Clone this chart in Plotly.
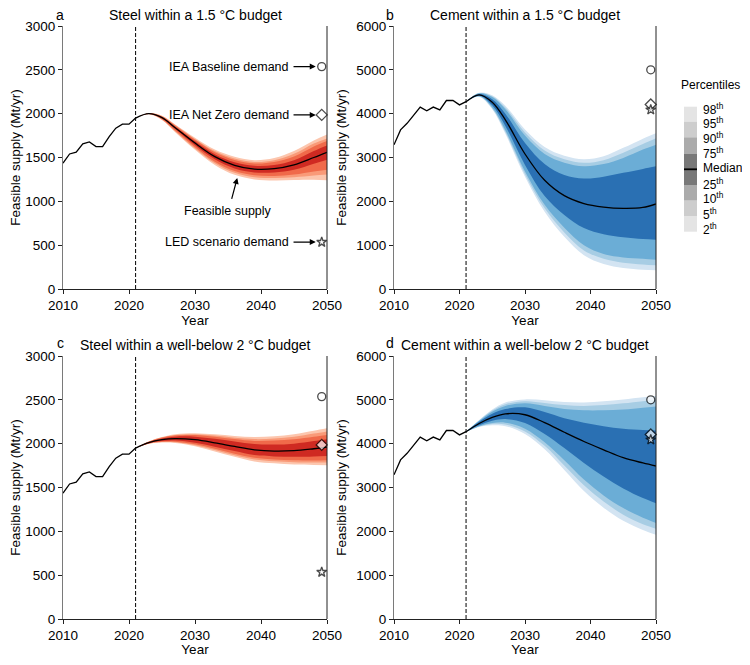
import plotly.graph_objects as go

# historical production (Mt/yr)
HIST_YEARS = list(range(2010, 2022))
STEEL_HIST = [1435, 1540, 1560, 1655, 1678, 1625, 1625, 1738, 1834, 1880, 1880, 1950]
CEMENT_HIST = [3290, 3630, 3780, 3970, 4150, 4065, 4150, 4085, 4300, 4300, 4200, 4275]

# feasible supply percentiles
PROJ_YEARS = [2021, 2023, 2025, 2027, 2030, 2033, 2036, 2039, 2042, 2045, 2048, 2050]

STEEL_15 = {
    2:  [1950, 1994, 1927, 1788, 1588, 1415, 1302, 1250, 1238, 1242, 1245, 1240],
    5:  [1950, 1995, 1932, 1798, 1603, 1435, 1325, 1275, 1265, 1275, 1295, 1305],
    10: [1950, 1996, 1937, 1808, 1618, 1452, 1345, 1298, 1290, 1305, 1340, 1360],
    25: [1950, 1998, 1945, 1825, 1640, 1480, 1375, 1330, 1330, 1360, 1430, 1475],
    50: [1950, 2000, 1955, 1840, 1665, 1510, 1410, 1367, 1372, 1415, 1500, 1560],
    75: [1950, 2002, 1962, 1852, 1685, 1538, 1445, 1405, 1415, 1470, 1575, 1638],
    90: [1950, 2004, 1968, 1862, 1702, 1560, 1472, 1432, 1448, 1510, 1625, 1688],
    95: [1950, 2005, 1972, 1870, 1712, 1573, 1488, 1450, 1470, 1542, 1660, 1718],
    98: [1950, 2006, 1976, 1877, 1725, 1590, 1508, 1470, 1495, 1575, 1695, 1762],
}

CEMENT_15 = {
    2:  [4270, 4382, 4100, 3540, 2560, 1760, 1190, 770, 570, 480, 440, 425],
    5:  [4270, 4390, 4120, 3580, 2620, 1840, 1290, 880, 690, 600, 560, 540],
    10: [4270, 4395, 4140, 3620, 2680, 1920, 1400, 1000, 800, 720, 690, 670],
    25: [4270, 4410, 4190, 3720, 2830, 2120, 1690, 1390, 1250, 1180, 1140, 1125],
    50: [4270, 4430, 4260, 3860, 3080, 2480, 2130, 1950, 1870, 1840, 1860, 1940],
    75: [4270, 4450, 4330, 4000, 3330, 2850, 2600, 2520, 2560, 2650, 2740, 2800],
    90: [4270, 4465, 4380, 4100, 3500, 3080, 2880, 2800, 2850, 2990, 3180, 3290],
    95: [4270, 4470, 4400, 4140, 3570, 3160, 2960, 2880, 2940, 3110, 3310, 3440],
    98: [4270, 4478, 4420, 4180, 3640, 3240, 3040, 2960, 3030, 3220, 3430, 3555],
}

STEEL_2 = {
    2:  [1950, 1998, 2013, 2008, 1970, 1912, 1850, 1798, 1776, 1762, 1757, 1755],
    5:  [1950, 2000, 2018, 2015, 1982, 1928, 1868, 1820, 1800, 1788, 1785, 1785],
    10: [1950, 2002, 2022, 2022, 1992, 1942, 1885, 1840, 1820, 1810, 1808, 1810],
    25: [1950, 2006, 2030, 2035, 2010, 1965, 1915, 1870, 1855, 1850, 1855, 1860],
    50: [1950, 2012, 2045, 2057, 2045, 2010, 1968, 1930, 1915, 1920, 1942, 1960],
    75: [1950, 2018, 2060, 2080, 2080, 2055, 2025, 1995, 1990, 2000, 2030, 2050],
    90: [1950, 2022, 2068, 2092, 2098, 2078, 2052, 2030, 2035, 2050, 2080, 2100],
    95: [1950, 2024, 2072, 2100, 2108, 2092, 2068, 2052, 2058, 2078, 2115, 2140],
    98: [1950, 2026, 2077, 2108, 2120, 2106, 2088, 2075, 2085, 2108, 2148, 2175],
}

CEMENT_2 = {
    2:  [4270, 4380, 4420, 4400, 4220, 3870, 3400, 2920, 2540, 2240, 2030, 1920],
    5:  [4270, 4390, 4450, 4440, 4280, 3950, 3500, 3050, 2680, 2380, 2160, 2060],
    10: [4270, 4400, 4470, 4480, 4340, 4030, 3620, 3180, 2820, 2530, 2310, 2190],
    25: [4270, 4420, 4520, 4560, 4470, 4220, 3900, 3560, 3250, 2980, 2760, 2640],
    50: [4270, 4460, 4600, 4680, 4660, 4480, 4260, 4050, 3860, 3680, 3560, 3490],
    75: [4270, 4500, 4680, 4790, 4830, 4720, 4580, 4480, 4400, 4340, 4310, 4300],
    90: [4270, 4520, 4730, 4860, 4920, 4860, 4790, 4760, 4760, 4780, 4820, 4850],
    95: [4270, 4530, 4755, 4900, 4970, 4930, 4880, 4860, 4880, 4920, 4970, 5000],
    98: [4270, 4540, 4780, 4940, 5010, 4990, 4950, 4940, 4970, 5010, 5060, 5090],
}

# 2050 demand scenarios (Baseline, Net Zero, LED)
DEMAND_YEAR = 2049.2
STEEL_DEMAND = [2537, 1986, 535]
CEMENT_DEMAND = [5000, 4210, 4090]
DEMAND_SYMBOLS = ['circle', 'diamond', 'star']

LEGEND_LABELS = ['98<sup>th</sup>', '95<sup>th</sup>', '90<sup>th</sup>', '75<sup>th</sup>', 'Median',
                 '25<sup>th</sup>', '10<sup>th</sup>', '5<sup>th</sup>', '2<sup>th</sup>']

BANDS = [(2, 98), (5, 95), (10, 90), (25, 75)]
REDS = ['#fcc6ae', '#f99a78', '#f06a4a', '#cf2a22']
BLUES = ['#d3e4f2', '#a7cde4', '#6badd6', '#2a70b3']
GREYS = ['#e4e4e4', '#cdcdcd', '#ababab', '#787878']

FONT = 'Arial, Liberation Sans, sans-serif'
OFF = 8  # page margin around the plot div
W, H = 750 - OFF, 665 - 2 * OFF


def px(x):
    return (x - OFF) / W


def py(y):
    return 1 - (y - OFF) / H


fig = go.Figure()

panels = [
    ('x', 'y', STEEL_15, STEEL_HIST, REDS, STEEL_DEMAND),
    ('x2', 'y2', CEMENT_15, CEMENT_HIST, BLUES, CEMENT_DEMAND),
    ('x3', 'y3', STEEL_2, STEEL_HIST, REDS, STEEL_DEMAND),
    ('x4', 'y4', CEMENT_2, CEMENT_HIST, BLUES, CEMENT_DEMAND),
]

for xa, ya, d, hist, cols, demand in panels:
    for k, (lo, hi) in enumerate(BANDS):
        fig.add_trace(go.Scatter(x=PROJ_YEARS, y=d[lo], mode='lines',
                                 line=dict(width=0, shape='spline'),
                                 xaxis=xa, yaxis=ya, showlegend=False, hoverinfo='skip'))
        fig.add_trace(go.Scatter(x=PROJ_YEARS, y=d[hi], mode='lines',
                                 line=dict(width=0, shape='spline'),
                                 fill='tonexty', fillcolor=cols[k],
                                 xaxis=xa, yaxis=ya, showlegend=False, hoverinfo='skip'))
    fig.add_trace(go.Scatter(x=PROJ_YEARS, y=d[50], mode='lines',
                             line=dict(width=1.3, color='black', shape='spline'),
                             xaxis=xa, yaxis=ya, showlegend=False))
    fig.add_trace(go.Scatter(x=HIST_YEARS, y=hist, mode='lines',
                             line=dict(width=1.3, color='black'),
                             xaxis=xa, yaxis=ya, showlegend=False))
    fig.add_trace(go.Scatter(x=[DEMAND_YEAR] * 3, y=demand, mode='markers',
                             marker=dict(symbol=DEMAND_SYMBOLS, size=[8, 8.5, 7.5], color='white',
                                         line=dict(width=1.3, color='black')),
                             cliponaxis=False, xaxis=xa, yaxis=ya, showlegend=False))

# axes
xdom = [[px(63), px(327)], [px(394), px(656)]]
ydom = [[py(289), py(26)], [py(619), py(356)]]
axis_style = dict(showline=True, linewidth=1, ticks='outside', ticklen=4, tickwidth=1,
                  tickcolor='#222', showgrid=False, zeroline=False, automargin=False,
                  tickfont=dict(size=13.5, family=FONT, color='black'))

layout_axes = {}
for i, (xa, ya, d, hist, cols, demand) in enumerate(panels):
    row, col = divmod(i, 2)
    n = '' if i == 0 else str(i + 1)
    layout_axes['xaxis' + n] = dict(axis_style, domain=xdom[col], anchor='y' + n,
                                    range=[2010, 2050], tickvals=[2010, 2020, 2030, 2040, 2050],
                                    linecolor='#222',
                                    title=dict(text='Year', standoff=2,
                                               font=dict(size=13.5, family=FONT, color='black')))
    ymax = 3000 if col == 0 else 6000
    layout_axes['yaxis' + n] = dict(axis_style, domain=ydom[row], anchor='x' + n,
                                    range=[0, ymax], dtick=ymax / 6, linecolor='#7a7a7a',
                                    title=dict(text='Feasible supply (Mt/yr)', standoff=6,
                                               font=dict(size=13.5, family=FONT, color='black')))
fig.update_layout(**layout_axes)

shapes = []
for i in range(4):
    n = '' if i == 0 else str(i + 1)
    # dashed line at the last historical year
    shapes.append(dict(type='line', xref='x' + n, yref='y' + n + ' domain', x0=2021, x1=2021,
                       y0=0, y1=1, line=dict(color='black', width=1, dash='4px,2px')))
    # right spine
    shapes.append(dict(type='line', xref='x' + n + ' domain', yref='y' + n + ' domain',
                       x0=1, x1=1, y0=0, y1=1, line=dict(color='#222', width=1)))

# percentile legend
cell_edges = [106.7, 121.7, 137.3, 154, 185, 200.7, 216, 231.7]
cell_cols = [GREYS[0], GREYS[1], GREYS[2], GREYS[3], GREYS[2], GREYS[1], GREYS[0]]
for j, c in enumerate(cell_cols):
    shapes.append(dict(type='rect', xref='paper', yref='paper', x0=px(684), x1=px(697),
                       y0=py(cell_edges[j + 1]), y1=py(cell_edges[j]),
                       fillcolor=c, line=dict(width=0)))
shapes.append(dict(type='line', xref='paper', yref='paper', x0=px(684), x1=px(697),
                   y0=py(169.3), y1=py(169.3), line=dict(color='black', width=1.8)))

annotations = []
label_y = [109.3, 123.3, 138.3, 153.3, 168.3, 184, 198.3, 214, 229.3]
for lab, ly in zip(LEGEND_LABELS, label_y):
    annotations.append(dict(xref='paper', yref='paper', x=px(701), y=py(ly), text=lab,
                            showarrow=False, xanchor='left', yanchor='middle',
                            font=dict(size=12, family=FONT, color='black')))
annotations.append(dict(xref='paper', yref='paper', x=px(710), y=py(85), text='Percentiles',
                        showarrow=False, xanchor='center', yanchor='middle',
                        font=dict(size=12, family=FONT, color='black')))

# panel titles and letters
titles = ['Steel within a 1.5 °C budget', 'Cement within a 1.5 °C budget',
          'Steel within a well-below 2 °C budget', 'Cement within a well-below 2 °C budget']
letters = ['a', 'b', 'c', 'd']
for i in range(4):
    row, col = divmod(i, 2)
    ty = 15 if row == 0 else 345
    ly = 15 if row == 0 else 343
    cx = (xdom[col][0] + xdom[col][1]) / 2
    annotations.append(dict(xref='paper', yref='paper', x=cx, y=py(ty), text=titles[i],
                            showarrow=False, xanchor='center', yanchor='middle',
                            font=dict(size=14, family=FONT, color='black')))
    annotations.append(dict(xref='paper', yref='paper', x=px(60 if col == 0 else 390),
                            y=py(ly), text=letters[i], showarrow=False,
                            xanchor='center', yanchor='middle',
                            font=dict(size=14, family=FONT, color='black')))

# scenario labels in panel a
scen_labels = ['IEA Baseline demand', 'IEA Net Zero demand', 'LED scenario demand']
for lab, yv in zip(scen_labels, STEEL_DEMAND):
    annotations.append(dict(xref='x', yref='y', x=2044.5, y=yv, text=lab, showarrow=False,
                            xanchor='right', yanchor='middle',
                            font=dict(size=12.5, family=FONT, color='black')))
    annotations.append(dict(xref='x', yref='y', axref='x', ayref='y', x=2048.3, y=yv,
                            ax=2044.7, ay=yv, text='', showarrow=True, arrowhead=2,
                            arrowsize=1, arrowwidth=1.2, arrowcolor='black'))
annotations.append(dict(xref='x', yref='y', x=2035.0, y=890, text='Feasible supply',
                        showarrow=False, xanchor='center', yanchor='middle',
                        font=dict(size=12.5, family=FONT, color='black')))
annotations.append(dict(xref='x', yref='y', axref='x', ayref='y', x=2036.4, y=1266,
                        ax=2035.5, ay=1010, text='', showarrow=True, arrowhead=2,
                        arrowsize=1, arrowwidth=1.2, arrowcolor='black'))

fig.update_layout(
    width=W, height=H,
    margin=dict(l=0, r=0, t=0, b=0),
    paper_bgcolor='white', plot_bgcolor='white',
    font=dict(family=FONT, color='black'),
    shapes=shapes, annotations=annotations,
    showlegend=False,
)

fig.write_html("out.html")
